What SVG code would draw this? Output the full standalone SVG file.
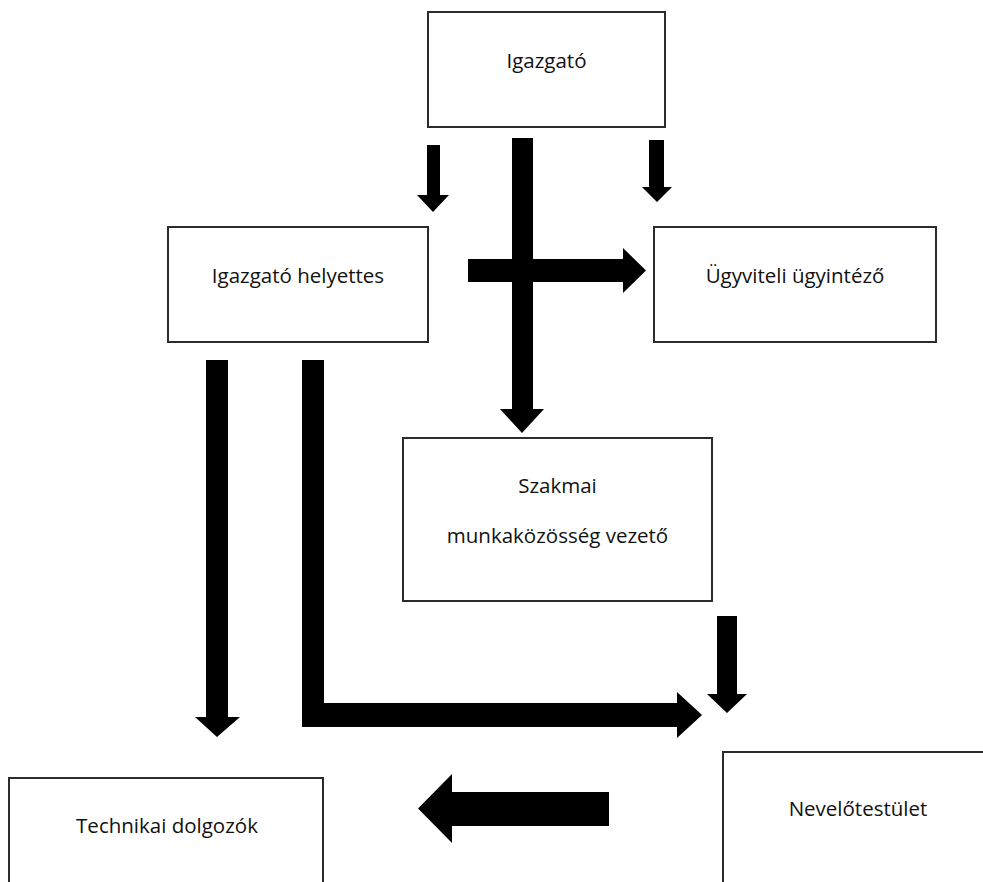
<svg xmlns="http://www.w3.org/2000/svg" width="983" height="882" viewBox="0 0 983 882">
<style>
.box{fill:#fff;stroke:#2b2b2b;stroke-width:2}
.lbl{font-family:"Open Sans","Liberation Sans",sans-serif;font-size:20.5px;fill:#111;text-anchor:middle}
.arr{fill:#000}
</style>
<rect width="983" height="882" fill="#fff"/>
<g id="connectors">
<polygon class="arr" points="427,145 440,145 440,195 449,195 433,212 417,195 427,195"/>
<polygon class="arr" points="649,140 664,140 664,187 672,187 657,202 642,187 649,187"/>
<polygon class="arr" points="512,138 533,138 533,409 544,409 522,433 500,409 512,409"/>
<polygon class="arr" points="468,259 623,259 623,248 646,270.5 623,293 623,282 468,282"/>
<polygon class="arr" points="206,360 228,360 228,717 240,717 217,737 195,717 206,717"/>
<polygon class="arr" points="302,360 324,360 324,703 677,703 677,692 702,715 677,738 677,727 302,727"/>
<polygon class="arr" points="717,616 737,616 737,694 747,694 727,713 707,694 717,694"/>
<polygon class="arr" points="609,792 609,826 452,826 452,843 418,808.5 452,774 452,792"/>
</g>
<g id="igazgato">
<rect class="box" x="428" y="12" width="237" height="115"/>
<text class="lbl" x="546.5" y="68">Igazgató</text>
</g>
<g id="igazgato-helyettes">
<rect class="box" x="168" y="227" width="260" height="115"/>
<text class="lbl" x="298" y="283">Igazgató helyettes</text>
</g>
<g id="ugyviteli-ugyintezo">
<rect class="box" x="654" y="227" width="282" height="115"/>
<text class="lbl" x="795" y="283">Ügyviteli ügyintéző</text>
</g>
<g id="szakmai-munkakozosseg-vezeto">
<rect class="box" x="403" y="438" width="309" height="163"/>
<text class="lbl" x="557.5" y="493">Szakmai</text>
<text class="lbl" x="557.5" y="543">munkaközösség vezető</text>
</g>
<g id="technikai-dolgozok">
<rect class="box" x="9" y="778" width="314" height="120"/>
<text class="lbl" x="167" y="833">Technikai dolgozók</text>
</g>
<g id="nevelotestulet">
<rect class="box" x="723" y="752" width="275" height="150"/>
<text class="lbl" x="858" y="816">Nevelőtestület</text>
</g>
</svg>
